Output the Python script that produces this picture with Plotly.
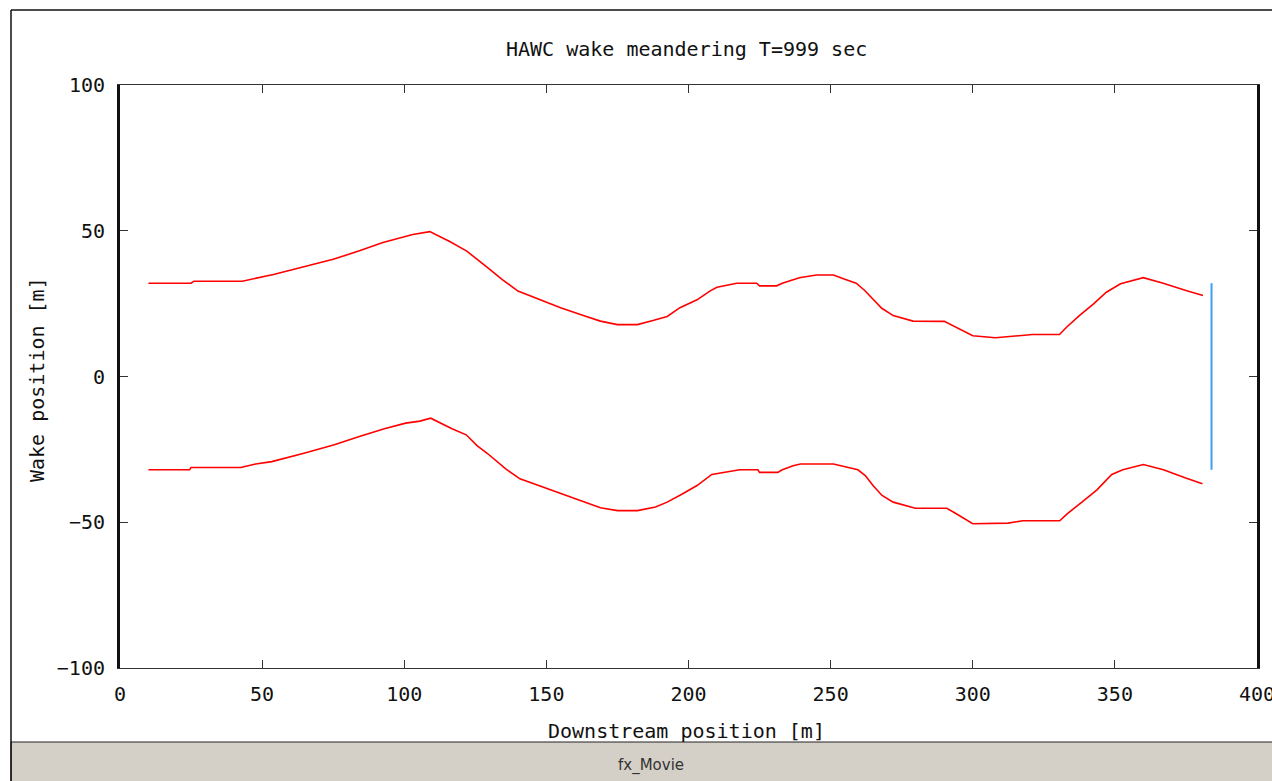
import plotly.graph_objects as go

# Wake boundary positions (downstream position [m], lateral position [m])
upper_x = [10, 25, 26, 43, 54, 64.5, 75, 84.5, 92.5, 103, 109, 116, 122, 129,
           134.5, 140, 147.5, 155, 163, 169, 175, 182, 187.5, 192.5, 197, 203,
           207.5, 210, 217, 224, 225, 231, 233, 239, 245, 251, 254.5, 259, 262,
           265, 268, 272, 279, 290, 296.5, 300, 308, 314, 321, 330.5, 333,
           337.5, 342.5, 347, 352, 360, 367, 375, 381]
upper_y = [32.0, 32.0, 32.7, 32.7, 35.0, 37.5, 40.2, 43.2, 46.0, 48.7, 49.7,
           46.3, 43.0, 37.6, 33.2, 29.3, 26.4, 23.6, 20.9, 19.0, 17.8, 17.8,
           19.2, 20.6, 23.6, 26.3, 29.3, 30.6, 32.0, 32.0, 31.1, 31.1, 32.0,
           33.9, 34.8, 34.8, 33.5, 32.0, 29.5, 26.6, 23.4, 20.9, 19.0, 18.9,
           15.6, 14.0, 13.3, 13.8, 14.4, 14.4, 16.9, 20.9, 24.9, 28.9, 31.8,
           33.9, 32.0, 29.5, 27.8]

lower_x = [10, 24.5, 25, 42.5, 47.7, 53.4, 64.7, 75.4, 84.2, 93, 100.5, 105.5,
           109.3, 116.8, 121.8, 125.6, 129.4, 135.7, 140.7, 148.2, 155.8, 163.3,
           169, 175, 182, 188.4, 192.5, 197.8, 203, 208.2, 212.7, 218, 224.4,
           225, 231.4, 233, 236.8, 239.4, 251, 255, 259.6, 262.2, 264.9, 268.1,
           272, 279.8, 290.9, 294.2, 300, 312.4, 317.6, 330.6, 333.2, 338.4,
           343.7, 348.9, 352.8, 360, 367.1, 374.9, 380.8]
lower_y = [-32.0, -32.0, -31.2, -31.2, -30.0, -29.2, -26.3, -23.4, -20.6, -17.9,
           -16.0, -15.3, -14.3, -17.9, -20.0, -23.7, -26.5, -31.7, -35.1, -37.7,
           -40.6, -43.1, -45.0, -46.0, -46.0, -44.8, -43.1, -40.3, -37.4, -33.6,
           -32.9, -32.0, -32.0, -32.9, -32.9, -32.0, -30.6, -30.0, -30.0, -30.9,
           -32.0, -34.0, -37.4, -40.8, -43.1, -45.2, -45.2, -47.1, -50.5, -50.3,
           -49.5, -49.5, -47.1, -43.1, -38.9, -33.6, -32.0, -30.2, -32.0, -34.8,
           -36.8]

# Rotor plane of the downstream turbine
rotor_x = [384, 384]
rotor_y = [-32, 32]

x_ticks = [0, 50, 100, 150, 200, 250, 300, 350, 400]
y_ticks = [-100, -50, 0, 50, 100]

title_text = "HAWC wake meandering T=999 sec"
x_title = "Downstream position [m]"
y_title = "Wake position [m]"
window_caption = "fx_Movie"

MONO = "DejaVu Sans Mono"

fig = go.Figure()
fig.add_trace(go.Scatter(x=upper_x, y=upper_y, mode="lines",
                         line=dict(color="#ff0000", width=1.6), showlegend=False))
fig.add_trace(go.Scatter(x=lower_x, y=lower_y, mode="lines",
                         line=dict(color="#ff0000", width=1.6), showlegend=False))
fig.add_trace(go.Scatter(x=rotor_x, y=rotor_y, mode="lines",
                         line=dict(color="#3d9ef2", width=2), showlegend=False))

# plot area spans pixels 120..1257 horizontally and 85..668 vertically
L, R, T, B = 120, 1257, 85, 668
W, H = 1272, 781


def px(xp):
    return (xp - L) / (R - L)


def py(yp):
    return (B - yp) / (B - T)


shapes = [
    # gray status bar of the window
    dict(type="rect", xref="paper", yref="paper", x0=px(11), x1=px(W + 5),
         y0=py(742), y1=py(W), fillcolor="#d4d0c8",
         line=dict(color="#222", width=1), layer="below"),
    # window frame (left and top edges)
    dict(type="line", xref="paper", yref="paper", x0=px(11), x1=px(11),
         y0=py(10), y1=py(790), line=dict(color="#111", width=1.5)),
    dict(type="line", xref="paper", yref="paper", x0=px(11), x1=px(W + 5),
         y0=py(10), y1=py(10), line=dict(color="#111", width=1.5)),
]

annotations = [
    dict(text=title_text, xref="paper", yref="paper", x=px(686), y=py(49),
         showarrow=False, font=dict(family=MONO, size=20, color="#111"),
         xanchor="center", yanchor="middle"),
    dict(text=x_title, xref="paper", yref="paper", x=px(686), y=py(731),
         showarrow=False, font=dict(family=MONO, size=20, color="#111"),
         xanchor="center", yanchor="middle"),
    dict(text=y_title, xref="paper", yref="paper", x=px(37), y=py(380),
         showarrow=False, textangle=-90,
         font=dict(family=MONO, size=20, color="#111"),
         xanchor="center", yanchor="middle"),
    dict(text=window_caption, xref="paper", yref="paper", x=px(651), y=py(765),
         showarrow=False, font=dict(family="DejaVu Sans", size=15, color="#333"),
         xanchor="center", yanchor="middle"),
]

fig.update_layout(
    width=W, height=H,
    margin=dict(l=L, r=W - R, t=T, b=H - B, pad=0, autoexpand=False),
    paper_bgcolor="white", plot_bgcolor="white",
    shapes=shapes, annotations=annotations,
    font=dict(family=MONO, size=20, color="#111"),
)
fig.update_xaxes(range=[0, 400], tickvals=x_ticks, ticks="inside", ticklen=8,
                 tickwidth=1.2, tickcolor="#333", showgrid=False, zeroline=False,
                 showline=True, linecolor="#333", linewidth=1.2, mirror="ticks",
                 ticklabelstandoff=8, ticklabeloverflow="allow", automargin=False,
                 tickfont=dict(family=MONO, size=20, color="#111"))
fig.update_yaxes(range=[-100, 100], tickvals=y_ticks, ticks="inside", ticklen=8,
                 tickwidth=1.2, tickcolor="#333", showgrid=False, zeroline=False,
                 showline=True, linecolor="#111", linewidth=3, mirror="ticks",
                 ticklabelstandoff=8, ticklabeloverflow="allow", automargin=False,
                 tickfont=dict(family=MONO, size=20, color="#111"))

fig.write_html("out.html")
